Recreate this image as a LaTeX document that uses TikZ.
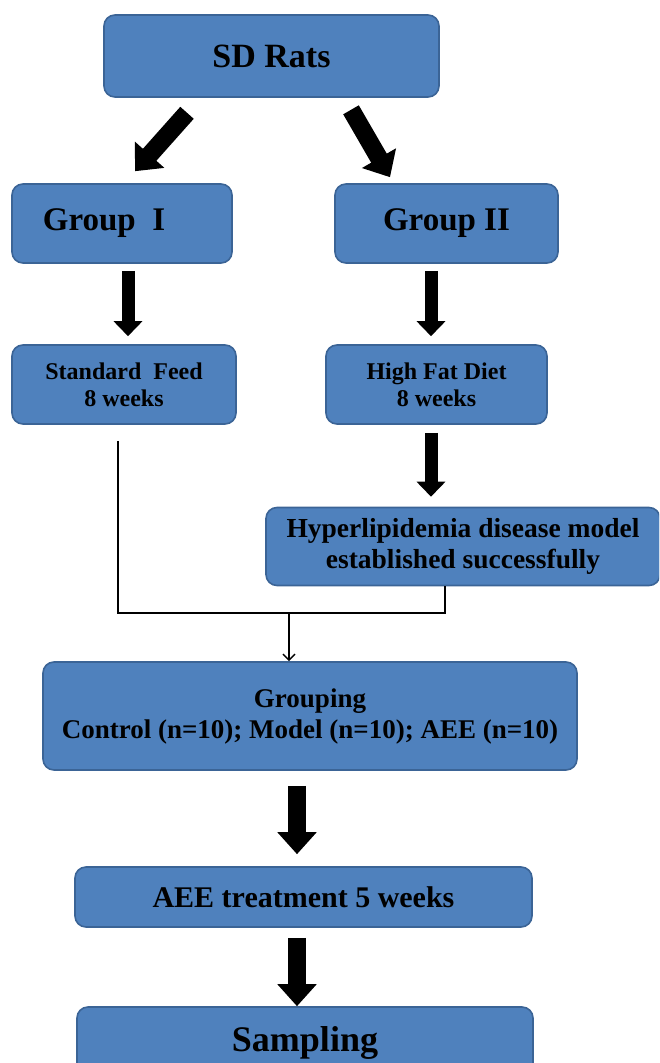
\documentclass[tikz,border=0pt]{standalone}
\usepackage{fontspec}
\setmainfont{Liberation Serif}
\usetikzlibrary{arrows.meta, positioning}
\definecolor{boxfill}{HTML}{4F81BD}
\definecolor{boxline}{HTML}{3B6496}
\newcommand\fs[2]{\fontsize{#1}{#2}\selectfont\bfseries}

\begin{document}
\begin{tikzpicture}[x=1pt, y=-1pt,
  box/.style={draw=boxline, line width=1.6pt, fill=boxfill, rounded corners=11pt, inner sep=0pt, align=center},
  bigarrow/.style={line width=18pt, -{Triangle[length=22pt,width=38pt]}},
  smallarrow/.style={line width=13pt, -{Triangle[length=15pt,width=28pt]}},
  link/.style={line width=1.5pt}]
\useasboundingbox (0,0) rectangle (659,1063);
\clip (0,0) rectangle (659,1063);
% boxes
\node[box, minimum width=335pt, minimum height=82pt, font=\fs{34}{40}] (rats) at (271.5,56) {SD Rats};
\node[box, minimum width=220pt, minimum height=79pt, font=\fs{33}{40}] (g1) at (122,223.5) {Group\ \ I\hspace*{36pt}};
\node[box, minimum width=223pt, minimum height=79pt, font=\fs{33}{40}] (g2) at (446.5,223.5) {Group II};
\node[box, minimum width=224pt, minimum height=79pt, font=\fs{24}{27}] (feed) at (124,384.5) {Standard\ \ Feed\\8 weeks};
\node[box, minimum width=221pt, minimum height=79pt, font=\fs{24}{27}] (hfd) at (436.5,384.5) {High Fat Diet\\8 weeks};
\node[box, minimum width=394pt, minimum height=78pt, font=\fs{27.5}{31}] (hyper) at (463,546.5) {Hyperlipidemia disease model\\established successfully};
\node[box, minimum width=534pt, minimum height=108pt, font=\fs{27}{31}] (grouping) at (310,716) {Grouping\\Control (n=10); Model (n=10); AEE (n=10)};
\node[box, minimum width=457pt, minimum height=60pt, font=\fs{30}{34}] (aee) at (303.5,897) {AEE treatment 5 weeks};
\node[box, minimum width=456pt, minimum height=72pt, font=\fs{36}{40}] (sampling) at (305,1043) {Sampling};
% block arrows
\draw[bigarrow] ([xshift=-84.5pt,yshift=-15pt]rats.south) -- ([xshift=13pt,yshift=12pt]g1.north);
\draw[bigarrow] ([xshift=79.5pt,yshift=-12pt]rats.south) -- ([xshift=-56.5pt,yshift=6pt]g2.north);
\draw[smallarrow] ([xshift=6pt,yshift=-7pt]g1.south) -- ([xshift=4pt,yshift=8pt]feed.north);
\draw[smallarrow] ([xshift=-15.5pt,yshift=-7pt]g2.south) -- ([xshift=-5.5pt,yshift=8pt]hfd.north);
\draw[smallarrow] ([xshift=-5.5pt,yshift=-8pt]hfd.south) -- ([xshift=-32pt,yshift=10pt]hyper.north);
\draw[bigarrow] ([xshift=-13pt,yshift=-15pt]grouping.south) -- ([xshift=-6.5pt,yshift=12pt]aee.north);
\draw[bigarrow] ([xshift=-6.5pt,yshift=-10pt]aee.south) -- ([xshift=-8pt]sampling.north);
% joining lines
\coordinate (feedout) at ([xshift=-6pt,yshift=-16pt]feed.south);
\coordinate (join) at (289,613);
\draw[link] (feedout) |- (join) -| ([xshift=-18pt]hyper.south);
\draw[link, -{Straight Barb[length=6pt,width=12pt]}] (join) -- (join |- grouping.north);
\end{tikzpicture}
\end{document}
